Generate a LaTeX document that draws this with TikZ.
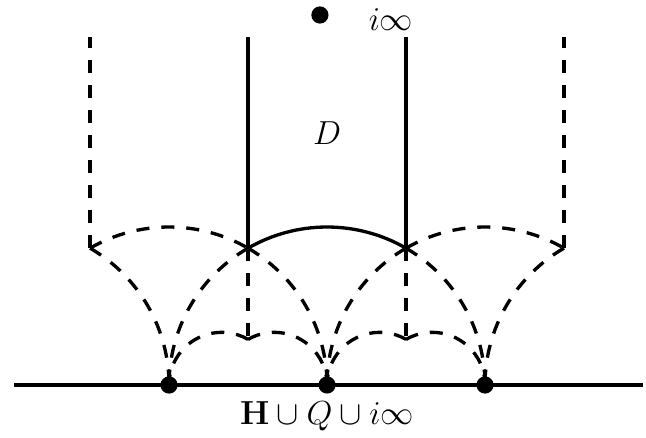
\documentclass[tikz,border=0pt]{standalone}
\usepackage{tikz}
\usetikzlibrary{positioning,calc}

\begin{document}
\begin{tikzpicture}[x=2cm, y=2cm, line width=1.2pt,
  every node/.style={font=\large},
  dashline/.style={dash pattern=on 4.7pt off 4.3pt},
  cusp/.style={circle, fill=black, inner sep=0pt, minimum size=6.2pt}]
  \useasboundingbox (-2.07,-0.335) rectangle (2.019,2.437);

  % corners of D and its neighbours
  \coordinate (rhoL) at (-0.5,{sqrt(3)/2});
  \coordinate (rhoR) at (0.5,{sqrt(3)/2});
  \coordinate (farL) at (-1.5,{sqrt(3)/2});
  \coordinate (farR) at (1.5,{sqrt(3)/2});
  \coordinate (lowL) at (-0.5,{sqrt(3)/6});
  \coordinate (lowR) at (0.5,{sqrt(3)/6});

  % real axis and cusps
  \node[inner sep=0pt] (axisL) at (-2,0) {};
  \node[inner sep=0pt] (axisR) at (2.02,0) {};
  \draw (axisL) -- (axisR);
  \node[cusp] (cuspL) at (-1,0) {};
  \node[cusp] (cuspO) at (0,0) {};
  \node[cusp] (cuspR) at (1,0) {};
  \node[cusp] (inf) at (-0.045,2.342) {};
  \node[inner sep=0pt] (inflabel) at (0.405,2.315) {$i\infty$};
  \node (dom) at (0,1.595) {$D$};
  \node (upper) at (0,-0.196) {$\mathbf{H}\cup Q\cup i\infty$};

  % fundamental domain
  \draw (rhoL) -- (-0.5,2.2);
  \draw (rhoR) -- (0.5,2.2);
  \draw (rhoR) arc[start angle=60, end angle=120, radius=1];

  % translates and images
  \draw[dashline] (farL) -- (-1.5,2.2);
  \draw[dashline] (farR) -- (1.5,2.2);
  \draw[dashline] (farL) arc[start angle=120, end angle=60, radius=1];
  \draw[dashline] (rhoR) arc[start angle=120, end angle=60, radius=1];
  \draw[dashline] (farL) arc[start angle=60, end angle=0, radius=1];
  \draw[dashline] (rhoL) arc[start angle=120, end angle=180, radius=1];
  \draw[dashline] (rhoL) arc[start angle=60, end angle=0, radius=1];
  \draw[dashline] (rhoR) arc[start angle=120, end angle=180, radius=1];
  \draw[dashline] (rhoR) arc[start angle=60, end angle=0, radius=1];
  \draw[dashline] (farR) arc[start angle=120, end angle=180, radius=1];
  \draw[dashline] (rhoL) -- (lowL);
  \draw[dashline] (rhoR) -- (lowR);
  \draw[dashline] (lowL) arc[start angle=60, end angle=180, radius=1/3];
  \draw[dashline] (lowL) arc[start angle=120, end angle=0, radius=1/3];
  \draw[dashline] (lowR) arc[start angle=60, end angle=180, radius=1/3];
  \draw[dashline] (lowR) arc[start angle=120, end angle=0, radius=1/3];
\end{tikzpicture}
\end{document}
